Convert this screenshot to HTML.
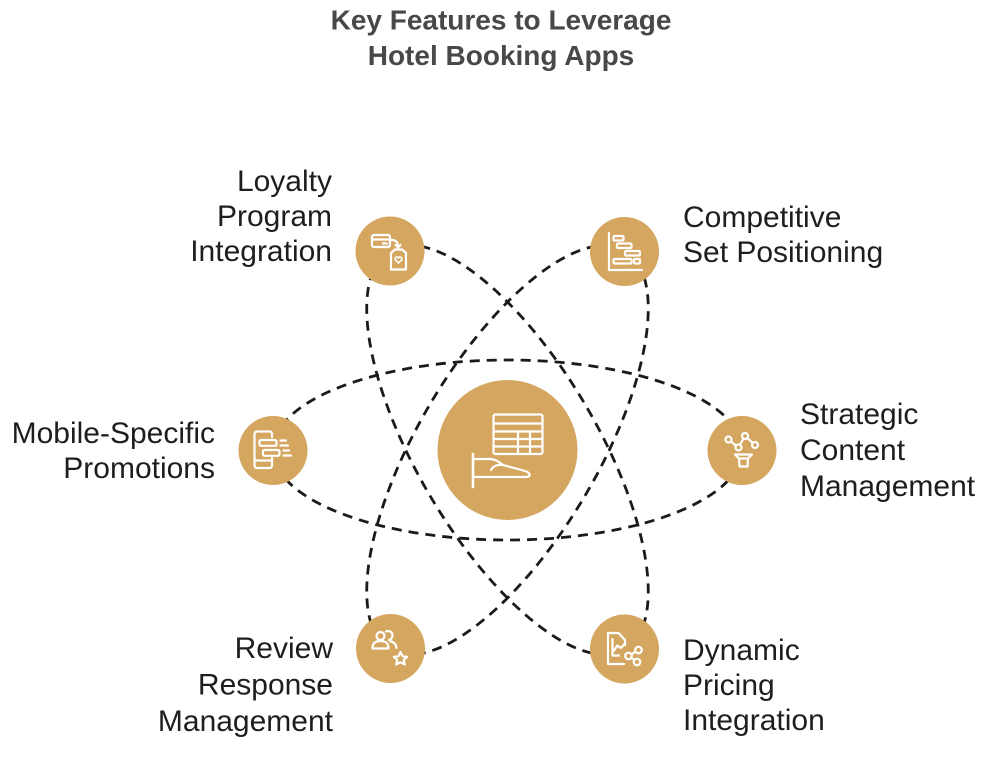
<!DOCTYPE html>
<html>
<head>
<meta charset="utf-8">
<style>
  html, body { margin: 0; padding: 0; background: #ffffff; }
  body { width: 1000px; height: 763px; overflow: hidden; }
  svg { display: block; }
  .lbl { font-family: "Liberation Sans", Arial, sans-serif; font-size: 30px; fill: #1e1e1e; }
  .ttl { font-family: "Liberation Sans", Arial, sans-serif; font-size: 28px; font-weight: bold; fill: #484848; }
</style>
</head>
<body>
<svg width="1000" height="763" viewBox="0 0 1000 763" xmlns="http://www.w3.org/2000/svg">
  <!-- Title -->
  <text class="ttl" x="501" y="29.5" text-anchor="middle">Key Features to Leverage</text>
  <text class="ttl" x="501" y="65" text-anchor="middle">Hotel Booking Apps</text>

  <!-- Dashed ellipses -->
  <g fill="none" stroke="#1a1a1a" stroke-width="2.8" stroke-dasharray="10 7">
    <ellipse cx="507.5" cy="450" rx="234.5" ry="90"/>
    <ellipse cx="507.5" cy="450" rx="231.5" ry="90" transform="rotate(59.5 507.5 450)"/>
    <ellipse cx="507.5" cy="450" rx="231.5" ry="90" transform="rotate(-59.5 507.5 450)"/>
  </g>

  <!-- Circles -->
  <g fill="#D4A660">
    <circle cx="507.5" cy="450" r="70"/>
    <circle cx="390" cy="251" r="34.5"/>
    <circle cx="624.5" cy="251.5" r="34.5"/>
    <circle cx="742" cy="450.5" r="34.5"/>
    <circle cx="624.5" cy="649" r="34.5"/>
    <circle cx="390.5" cy="648.5" r="34.5"/>
    <circle cx="273" cy="450.5" r="34.5"/>
  </g>

  <!-- Icons -->
  <g fill="none" stroke="#ffffff" stroke-width="2.2" stroke-linecap="round" stroke-linejoin="round">
    <!-- Center: table + hand -->
    <rect x="493.5" y="414.5" width="49" height="39.5" rx="2"/>
    <line x1="493.5" y1="423.5" x2="542.5" y2="423.5"/>
    <line x1="493.5" y1="431.5" x2="542.5" y2="431.5"/>
    <line x1="493.5" y1="439" x2="542.5" y2="439"/>
    <line x1="493.5" y1="446.5" x2="542.5" y2="446.5"/>
    <line x1="518" y1="431.5" x2="518" y2="454"/>
    <line x1="530" y1="431.5" x2="530" y2="454"/>
    <line x1="473" y1="454" x2="473" y2="487" stroke-width="2.6"/>
    <path d="M475 459 L489 459 C496 459 499 462 503 465 L525 471 C531 473 531 477 526 477 L475 477"/>
    <path d="M491 470 C493 466 498 464 503 465"/>

    <!-- Loyalty: card + arrow + tag -->
    <rect x="372" y="235" width="18" height="12" rx="2"/>
    <line x1="372" y1="239.5" x2="390" y2="239.5"/>
    <line x1="383" y1="243.5" x2="387" y2="243.5"/>
    <path d="M391.5 240 C396 240 398 242 398 247"/>
    <path d="M395.5 245 L398 247.5 L400.5 245"/>
    <path d="M391 253 L395 249.5 L402 249.5 L406 253 L406 269.5 L391 269.5 Z"/>
    <path d="M398.5 263 L395.8 260.3 C394.5 259 395.5 257 397 257 C397.8 257 398.3 257.5 398.5 258 C398.7 257.5 399.2 257 400 257 C401.5 257 402.5 259 401.2 260.3 Z" stroke-width="1.6"/>

    <!-- Competitive: gantt -->
    <path d="M609 233 L609 270 L642 270"/>
    <rect x="613.5" y="236" width="10" height="4.5" rx="1"/>
    <rect x="617" y="243.5" width="14.5" height="4.5" rx="1"/>
    <rect x="625" y="251" width="15" height="4.5" rx="1"/>
    <rect x="613.5" y="259" width="18" height="4.5" rx="1"/>
    <rect x="634" y="259" width="6" height="4.5" rx="1"/>

    <!-- Strategic: nodes + cup -->
    <circle cx="728.5" cy="439.5" r="3"/>
    <circle cx="738.5" cy="447.5" r="3"/>
    <circle cx="745" cy="436" r="3"/>
    <circle cx="755" cy="445" r="3"/>
    <line x1="730.8" y1="441.5" x2="736.2" y2="445.7"/>
    <line x1="740" y1="444.9" x2="743.5" y2="438.6"/>
    <line x1="747.3" y1="438" x2="752.7" y2="442.9"/>
    <path d="M735 454.5 L752 454.5 L748 458.5 L747.5 466.5 L739.5 466.5 L739 458.5 Z"/>
    <line x1="739" y1="458.5" x2="748" y2="458.5"/>

    <!-- Dynamic: doc + chart + share -->
    <path d="M625 645 L625 640 L618.5 633 L608 633 L608 664 L624 664"/>
    <path d="M612.5 639 L612.5 655.5 L619 655.5"/>
    <path d="M614 650.5 L617.5 645.5 L620.8 648 L625 643.5"/>
    <circle cx="638.5" cy="650" r="3.3"/>
    <circle cx="628.5" cy="656" r="3.3"/>
    <circle cx="637" cy="662" r="3.3"/>
    <line x1="631.4" y1="654.3" x2="635.6" y2="651.7"/>
    <line x1="631.3" y1="657.8" x2="634.2" y2="660"/>

    <!-- Review: people + star -->
    <circle cx="380.5" cy="636" r="4"/>
    <path d="M372.5 648.5 C372.5 642.5 376 641 380.5 641 C385 641 388.5 642.5 388.5 648.5 Z"/>
    <path d="M386 631.5 C388 630.5 392.5 631 392.5 635.5 C392.5 638 390.5 639.5 389 640"/>
    <path d="M390.5 641.5 C394 642 396 644 396.5 648"/>
    <path d="M400.5 652 L402.6 656.3 L407.2 656.8 L403.8 659.9 L404.8 664.5 L400.5 662.2 L396.2 664.5 L397.2 659.9 L393.8 656.8 L398.4 656.3 Z"/>

    <!-- Mobile: phone + messages -->
    <path d="M272 437 L272 434 C272 432.5 271 431.5 269.5 431.5 L257 431.5 C255.5 431.5 254.5 432.5 254.5 434 L254.5 465.5 C254.5 467 255.5 468 257 468 L269.5 468 C271 468 272 467 272 465.5 L272 456"/>
    <line x1="254.5" y1="460.5" x2="272" y2="460.5"/>
    <rect x="259.5" y="440" width="17" height="5.8" rx="1.5"/>
    <rect x="263" y="450" width="16.5" height="5.8" rx="1.5"/>
    <line x1="280.5" y1="440.5" x2="286" y2="440.5"/>
    <line x1="280.5" y1="445.5" x2="288" y2="445.5"/>
    <line x1="283.5" y1="450.5" x2="289" y2="450.5"/>
    <line x1="283.5" y1="455.5" x2="291" y2="455.5"/>
  </g>

  <!-- Labels -->
  <text class="lbl" x="332" y="191" text-anchor="end">Loyalty</text>
  <text class="lbl" x="332" y="226" text-anchor="end">Program</text>
  <text class="lbl" x="332" y="261" text-anchor="end">Integration</text>

  <text class="lbl" x="683" y="227">Competitive</text>
  <text class="lbl" x="683" y="262">Set Positioning</text>

  <text class="lbl" x="215" y="443" text-anchor="end">Mobile-Specific</text>
  <text class="lbl" x="215" y="478" text-anchor="end">Promotions</text>

  <text class="lbl" x="800" y="424">Strategic</text>
  <text class="lbl" x="800" y="460">Content</text>
  <text class="lbl" x="800" y="496">Management</text>

  <text class="lbl" x="333" y="658" text-anchor="end">Review</text>
  <text class="lbl" x="333" y="694.5" text-anchor="end">Response</text>
  <text class="lbl" x="333" y="731" text-anchor="end">Management</text>

  <text class="lbl" x="683" y="660">Dynamic</text>
  <text class="lbl" x="683" y="695">Pricing</text>
  <text class="lbl" x="683" y="730">Integration</text>
</svg>
</body>
</html>
